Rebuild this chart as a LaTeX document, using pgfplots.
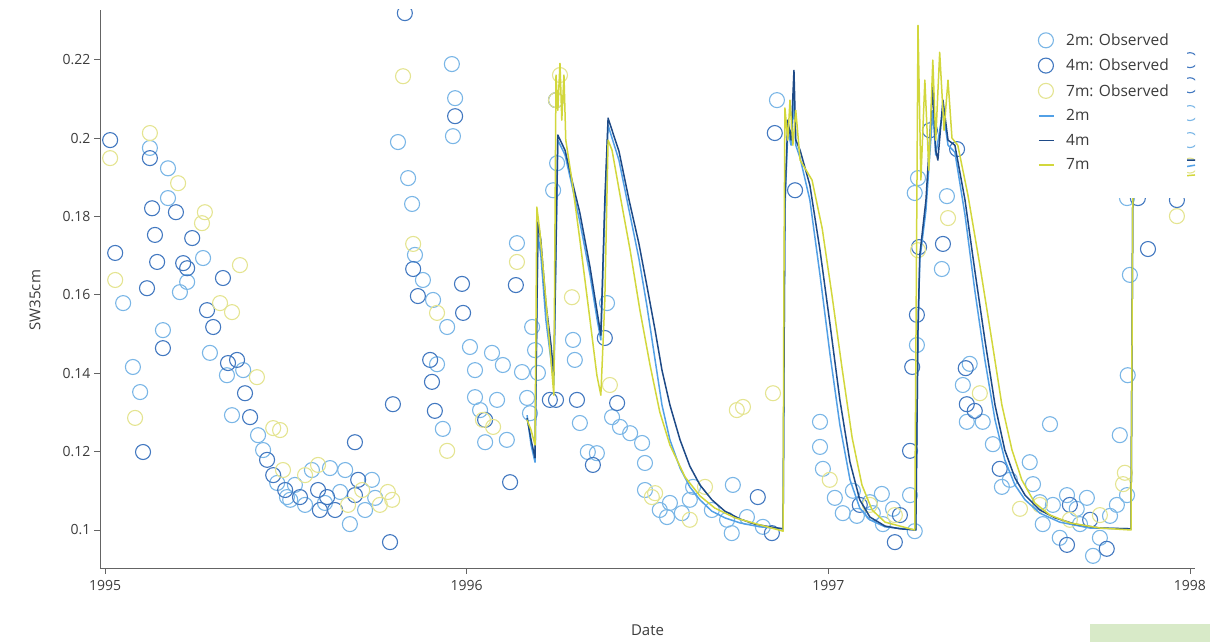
\documentclass[border=0pt]{standalone}
\usepackage{fontspec}
\setmainfont{Open Sans}
\usepackage{pgfplots}
\pgfplotsset{compat=1.18}
\definecolor{obsA}{RGB}{122,182,230}
\definecolor{obsB}{RGB}{66,120,192}
\definecolor{obsC}{RGB}{228,228,145}
\definecolor{lineA}{RGB}{82,160,230}
\definecolor{lineB}{RGB}{30,74,135}
\definecolor{lineC}{RGB}{210,215,60}
\definecolor{txt}{RGB}{60,60,60}
\definecolor{axc}{RGB}{100,100,100}
\definecolor{boxg}{RGB}{216,234,200}
\pgfplotsset{
 obs/.style={only marks, mark=o, mark size=7.5pt, line width=1.1pt,
   legend image code/.code={\path[##1] plot coordinates {(8pt,0pt)};}},
 firstobs/.style={legend image code/.code={\fill[white,overlay] (-9pt,18pt) rectangle (149pt,-157pt);
    \path[##1] plot coordinates {(8pt,0pt)};}},
 mdl/.style={no marks, line width=1.5pt, line join=round,
   legend image code/.code={\draw[##1] (1pt,0pt) -- (16pt,0pt);}},
}
\begin{document}
\begin{tikzpicture}[x=1pt,y=1pt]
\useasboundingbox (-100,-74) rectangle (1110,568);
\begin{axis}[
 at={(0,0)}, anchor=south west,
 scale only axis, width=1095pt, height=558pt,
 xmin=1994.986, xmax=1998.014, ymin=0.0903, ymax=0.2327,
 axis x line*=bottom, axis y line*=left,
 axis line style={-, axc, line width=0.8pt},
 xtick={1995,1996,1997,1998}, xticklabels={1995,1996,1997,1998},
 ytick={0.1,0.12,0.14,0.16,0.18,0.2,0.22},
 yticklabels={0.1,0.12,0.14,0.16,0.18,0.2,0.22},
 tick align=outside, major tick length=6pt,
 tick style={axc, line width=0.8pt},
 ticklabel style={font=\fontsize{14}{16}\selectfont, text=txt},
 xticklabel style={yshift=-3pt},
 xlabel={Date}, ylabel={SW35cm},
 label style={font=\fontsize{15}{17}\selectfont, text=txt},
 xlabel style={at={(axis description cs:0.5,-0.111)}, anchor=center},
 ylabel style={at={(axis description cs:-0.0594,0.48)}, anchor=center},
 clip marker paths=true,
 legend cell align=left,
 legend style={at={(rel axis cs:0.8566,0.9624)}, anchor=north west,
   draw=none, fill=none, font=\fontsize{15.5}{17}\selectfont, text=txt,
   row sep=7pt, column sep=9pt, inner sep=0pt, nodes={inner sep=2.5pt}},
]
\addplot[obs, firstobs, draw=obsA] table {
1995.050 0.1579
1995.077 0.1416
1995.097 0.1352
1995.160 0.1510
1995.124 0.1975
1995.174 0.1923
1995.174 0.1847
1995.227 0.1633
1995.207 0.1607
1995.271 0.1694
1995.290 0.1452
1995.337 0.1395
1995.382 0.1408
1995.351 0.1293
1995.423 0.1242
1995.437 0.1204
1995.476 0.1120
1995.503 0.1084
1995.512 0.1077
1995.525 0.1115
1995.572 0.1153
1995.622 0.1158
1995.650 0.1097
1995.664 0.1153
1995.719 0.1051
1995.738 0.1128
1995.747 0.1082
1995.677 0.1015
1995.608 0.1069
1995.553 0.1064
1995.959 0.2189
1995.968 0.2102
1995.962 0.2005
1995.810 0.1990
1995.838 0.1898
1995.849 0.1832
1995.857 0.1702
1995.879 0.1638
1995.907 0.1587
1995.946 0.1518
1995.918 0.1423
1995.934 0.1258
1996.009 0.1467
1996.023 0.1408
1996.070 0.1452
1996.100 0.1421
1996.153 0.1403
1996.023 0.1339
1996.037 0.1306
1996.084 0.1332
1996.051 0.1224
1996.111 0.1230
1996.139 0.1732
1996.175 0.1298
1996.181 0.1518
1996.189 0.1459
1996.197 0.1401
1996.167 0.1337
1996.250 0.1936
1996.239 0.1867
1996.294 0.1485
1996.299 0.1434
1996.313 0.1273
1996.335 0.1199
1996.360 0.1196
1996.388 0.1579
1996.402 0.1288
1996.424 0.1263
1996.452 0.1247
1996.485 0.1222
1996.493 0.1171
1996.493 0.1102
1996.534 0.1051
1996.562 0.1069
1996.554 0.1033
1996.595 0.1043
1996.617 0.1077
1996.626 0.1110
1996.678 0.1051
1996.720 0.1026
1996.733 0.0992
1996.736 0.1115
1996.775 0.1033
1996.819 0.1008
1996.858 0.2097
1996.977 0.1276
1996.977 0.1212
1996.985 0.1156
1997.018 0.1082
1997.040 0.1043
1997.068 0.1100
1997.079 0.1036
1997.115 0.1071
1997.123 0.1043
1997.148 0.1092
1997.151 0.1015
1997.179 0.1054
1997.226 0.1089
1997.239 0.0997
1997.245 0.1472
1997.248 0.1898
1997.239 0.1860
1997.328 0.1852
1997.314 0.1666
1997.391 0.1424
1997.372 0.1370
1997.383 0.1276
1997.427 0.1276
1997.455 0.1219
1997.480 0.1110
1997.613 0.1270
1997.834 0.1651
1997.828 0.1395
1997.806 0.1242
1997.826 0.1847
1997.502 0.1128
1997.557 0.1173
1997.566 0.1117
1997.585 0.1071
1997.593 0.1015
1997.621 0.1064
1997.640 0.0980
1997.660 0.1089
1997.687 0.1054
1997.696 0.1015
1997.715 0.1082
1997.732 0.0934
1997.751 0.0980
1997.779 0.1036
1997.798 0.1064
1997.826 0.1089
1998.000 0.2064
1998.000 0.1995
};
\addlegendentry{2m: Observed}
\addplot[obs, draw=obsB] table {
1995.014 0.1995
1995.028 0.1707
1995.105 0.1199
1995.124 0.1949
1995.130 0.1821
1995.138 0.1753
1995.144 0.1684
1995.116 0.1617
1995.160 0.1464
1995.196 0.1811
1995.241 0.1745
1995.216 0.1681
1995.227 0.1668
1995.326 0.1643
1995.282 0.1561
1995.299 0.1518
1995.340 0.1426
1995.365 0.1434
1995.387 0.1349
1995.401 0.1288
1995.448 0.1179
1995.465 0.1140
1995.498 0.1102
1995.539 0.1084
1995.589 0.1102
1995.594 0.1051
1995.614 0.1084
1995.636 0.1051
1995.691 0.1089
1995.700 0.1128
1995.691 0.1224
1995.788 0.0969
1995.829 0.2319
1995.968 0.2056
1995.852 0.1666
1995.865 0.1597
1995.987 0.1628
1995.990 0.1554
1995.899 0.1434
1995.904 0.1378
1995.912 0.1304
1995.796 0.1321
1996.136 0.1625
1996.120 0.1122
1996.051 0.1281
1996.230 0.1332
1996.247 0.1332
1996.305 0.1332
1996.349 0.1166
1996.382 0.1490
1996.416 0.1324
1996.247 0.2097
1996.805 0.1084
1996.844 0.0992
1996.852 0.2013
1996.908 0.1867
1997.087 0.1064
1997.198 0.1038
1997.184 0.0969
1997.226 0.1202
1997.232 0.1416
1997.245 0.1549
1997.251 0.1722
1997.281 0.2020
1997.356 0.1972
1997.317 0.1730
1997.383 0.1321
1997.405 0.1304
1997.380 0.1413
1997.474 0.1156
1997.668 0.1064
1997.724 0.1026
1997.770 0.0952
1997.660 0.0962
1997.884 0.1717
1997.964 0.1842
1997.856 0.1847
1998.000 0.2199
1998.000 0.2135
};
\addlegendentry{4m: Observed}
\addplot[obs, draw=obsC] table {
1995.014 0.1949
1995.028 0.1638
1995.083 0.1286
1995.124 0.2013
1995.202 0.1885
1995.268 0.1783
1995.276 0.1811
1995.318 0.1579
1995.351 0.1556
1995.373 0.1676
1995.420 0.1390
1995.465 0.1260
1995.484 0.1255
1995.492 0.1153
1995.553 0.1140
1995.672 0.1064
1995.711 0.1102
1995.760 0.1064
1995.782 0.1097
1995.794 0.1077
1995.589 0.1166
1995.824 0.2158
1995.852 0.1730
1995.918 0.1554
1995.946 0.1202
1996.139 0.1684
1996.291 0.1594
1996.045 0.1281
1996.073 0.1263
1996.247 0.2097
1996.258 0.2161
1996.396 0.1370
1996.512 0.1084
1996.521 0.1094
1996.659 0.1110
1996.764 0.1314
1996.747 0.1306
1996.847 0.1349
1996.617 0.1026
1997.004 0.1128
1997.115 0.1064
1997.184 0.1038
1997.248 0.1714
1997.331 0.1796
1997.419 0.1349
1997.530 0.1054
1997.585 0.1064
1997.668 0.1026
1997.751 0.1038
1997.815 0.1117
1997.820 0.1146
1997.964 0.1801
1998.000 0.1930
};
\addlegendentry{7m: Observed}
\addplot[mdl, color=lineA] table {
1996.167 0.1293
1996.178 0.1217
1996.189 0.1173
1996.197 0.1753
1996.205 0.1702
1996.219 0.1536
1996.233 0.1434
1996.241 0.1370
1996.252 0.1995
1996.272 0.1957
1996.291 0.1880
1996.313 0.1786
1996.341 0.1651
1996.360 0.1541
1996.371 0.1485
1996.382 0.1816
1996.391 0.2033
1996.402 0.2000
1996.421 0.1944
1996.449 0.1816
1996.476 0.1694
1996.498 0.1574
1996.521 0.1434
1996.540 0.1319
1996.562 0.1230
1996.590 0.1158
1996.617 0.1110
1996.645 0.1077
1996.678 0.1048
1996.714 0.1031
1996.756 0.1018
1996.811 0.1008
1996.875 0.1003
1996.880 0.1816
1996.888 0.2020
1996.897 0.1982
1996.905 0.2097
1996.910 0.1982
1996.922 0.1949
1996.949 0.1842
1996.977 0.1651
1997.005 0.1446
1997.032 0.1268
1997.060 0.1128
1997.087 0.1056
1997.115 0.1026
1997.157 0.1008
1997.242 0.1000
1997.248 0.1510
1997.253 0.1689
1997.270 0.1816
1997.289 0.2071
1997.297 0.1957
1997.317 0.2071
1997.331 0.1982
1997.350 0.1964
1997.378 0.1804
1997.405 0.1612
1997.433 0.1434
1997.461 0.1281
1997.488 0.1179
1997.516 0.1115
1997.544 0.1077
1997.585 0.1043
1997.640 0.1020
1997.723 0.1005
1997.837 0.1003
1997.842 0.1847
1997.850 0.1906
1998.014 0.1931
};
\addlegendentry{2m}
\addplot[mdl, color=lineB] table {
1996.167 0.1286
1996.178 0.1230
1996.189 0.1184
1996.197 0.1786
1996.205 0.1740
1996.219 0.1579
1996.233 0.1474
1996.241 0.1395
1996.252 0.2008
1996.272 0.1969
1996.291 0.1893
1996.313 0.1809
1996.341 0.1671
1996.360 0.1561
1996.371 0.1497
1996.382 0.1842
1996.391 0.2051
1996.402 0.2020
1996.421 0.1967
1996.449 0.1842
1996.476 0.1732
1996.498 0.1625
1996.521 0.1510
1996.540 0.1408
1996.562 0.1319
1996.590 0.1230
1996.617 0.1163
1996.645 0.1115
1996.678 0.1077
1996.714 0.1048
1996.756 0.1028
1996.797 0.1015
1996.838 0.1008
1996.875 0.1003
1996.880 0.1842
1996.888 0.2046
1996.897 0.1995
1996.905 0.2173
1996.910 0.1995
1996.922 0.1969
1996.949 0.1880
1996.977 0.1714
1997.005 0.1523
1997.032 0.1332
1997.060 0.1173
1997.087 0.1077
1997.115 0.1033
1997.157 0.1010
1997.198 0.1003
1997.242 0.1000
1997.248 0.1510
1997.253 0.1702
1997.270 0.1842
1997.289 0.2130
1997.297 0.1969
1997.303 0.1944
1997.317 0.2097
1997.331 0.1995
1997.350 0.1982
1997.378 0.1842
1997.405 0.1663
1997.433 0.1485
1997.461 0.1319
1997.488 0.1204
1997.516 0.1133
1997.544 0.1089
1997.585 0.1051
1997.627 0.1031
1997.682 0.1015
1997.751 0.1005
1997.837 0.1003
1997.842 0.1847
1997.850 0.1918
1997.917 0.1944
1998.014 0.1944
};
\addlegendentry{4m}
\addplot[mdl, color=lineC] table {
1996.167 0.1281
1996.178 0.1255
1996.189 0.1217
1996.194 0.1824
1996.202 0.1765
1996.219 0.1587
1996.233 0.1434
1996.241 0.1344
1996.247 0.2161
1996.252 0.2071
1996.258 0.2191
1996.263 0.2046
1996.269 0.2161
1996.274 0.1995
1996.291 0.1893
1996.313 0.1740
1996.341 0.1536
1996.360 0.1395
1996.371 0.1344
1996.382 0.1587
1996.391 0.1995
1996.402 0.1969
1996.424 0.1855
1996.452 0.1714
1996.479 0.1561
1996.507 0.1421
1996.534 0.1301
1996.562 0.1217
1996.604 0.1135
1996.645 0.1087
1996.686 0.1056
1996.742 0.1031
1996.811 0.1013
1996.875 0.0997
1996.877 0.1587
1996.880 0.2077
1996.888 0.1995
1996.894 0.2097
1996.902 0.1982
1996.910 0.2071
1996.922 0.1944
1996.955 0.1893
1996.983 0.1770
1997.010 0.1600
1997.038 0.1413
1997.066 0.1235
1997.093 0.1115
1997.121 0.1051
1997.157 0.1020
1997.239 0.1000
1997.248 0.2288
1997.256 0.1893
1997.267 0.2148
1997.278 0.1918
1997.289 0.2199
1997.297 0.1995
1997.308 0.2219
1997.320 0.2020
1997.331 0.2148
1997.342 0.2000
1997.358 0.1982
1997.386 0.1855
1997.419 0.1676
1997.452 0.1485
1997.480 0.1319
1997.508 0.1204
1997.535 0.1128
1997.571 0.1069
1997.613 0.1038
1997.668 0.1018
1997.751 0.1005
1997.837 0.1000
1997.842 0.1847
1997.850 0.1893
1998.014 0.1906
};
\addlegendentry{7m}
\end{axis}
\fill[boxg] (990,-74) rectangle (1110,-56);
\end{tikzpicture}
\end{document}
